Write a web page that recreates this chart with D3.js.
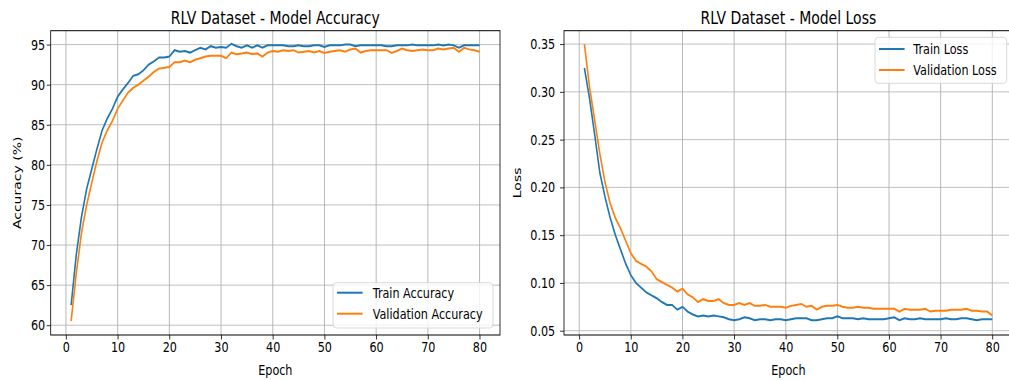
<!DOCTYPE html>
<html><head><meta charset="utf-8">
<script src="https://cdn.jsdelivr.net/npm/d3@7"></script>
<style>body{margin:0;background:#fff;overflow:hidden} svg{display:block}</style>
</head><body>
<svg id="c" width="1009" height="380" viewBox="0 0 1261.25 380" preserveAspectRatio="none"></svg>
<script>
const epochs = d3.range(1, 81);
const trainAcc = [62.5,68.8,73.5,77.0,79.5,82.0,84.3,85.8,87.0,88.5,89.4,90.2,91.1,91.3,91.8,92.5,92.9,93.4,93.4,93.5,
94.3,94.1,94.2,94.0,94.3,94.6,94.4,94.8,94.6,94.7,94.6,95.1,94.8,94.6,94.9,94.6,94.9,94.6,94.9,94.9,
94.9,94.9,94.8,94.8,94.9,94.8,94.8,94.9,94.9,94.7,94.9,94.9,94.9,95.0,95.0,94.8,94.9,94.9,94.9,94.9,
94.9,94.8,94.8,94.9,94.9,94.9,95.0,94.9,94.9,94.9,94.9,95.0,94.9,95.0,94.9,94.6,94.9,94.9,94.9,94.9];
const valAcc = [60.5,66.5,71.5,75.0,77.8,80.5,82.8,84.3,85.5,87.0,88.0,89.0,89.6,90.0,90.5,91.0,91.6,92.0,92.1,92.2,
92.8,92.8,93.0,92.8,93.1,93.3,93.5,93.6,93.6,93.6,93.3,94.0,93.8,93.9,94.0,93.8,93.9,93.5,94.0,94.2,
94.1,94.3,94.2,94.3,94.0,94.1,94.2,94.0,94.2,93.95,94.1,94.2,94.3,94.1,94.4,94.5,94.0,94.2,94.3,94.3,
94.3,94.3,93.95,94.2,94.5,94.3,94.2,94.3,94.4,94.3,94.3,94.5,94.4,94.5,94.6,94.1,94.6,94.4,94.3,94.1];
const trainLoss = [0.325,0.293,0.255,0.215,0.190,0.168,0.150,0.135,0.120,0.108,0.100,0.095,0.090,0.087,0.084,0.080,0.077,0.077,0.072,0.075,
0.070,0.067,0.065,0.066,0.065,0.066,0.065,0.064,0.062,0.061,0.062,0.064,0.063,0.061,0.062,0.062,0.061,0.062,0.062,0.061,
0.062,0.063,0.063,0.063,0.061,0.061,0.062,0.063,0.063,0.065,0.063,0.063,0.063,0.062,0.063,0.062,0.062,0.062,0.062,0.063,
0.064,0.061,0.063,0.062,0.062,0.063,0.062,0.062,0.062,0.062,0.063,0.062,0.062,0.063,0.063,0.062,0.061,0.062,0.062,0.062];
const valLoss = [0.350,0.305,0.270,0.235,0.205,0.183,0.168,0.157,0.144,0.131,0.123,0.120,0.117,0.112,0.104,0.101,0.098,0.095,0.091,0.094,
0.088,0.085,0.080,0.083,0.081,0.081,0.083,0.079,0.077,0.077,0.079,0.077,0.079,0.076,0.076,0.077,0.075,0.075,0.075,0.074,
0.076,0.077,0.078,0.075,0.076,0.072,0.075,0.076,0.076,0.077,0.075,0.074,0.074,0.075,0.074,0.074,0.073,0.073,0.073,0.073,
0.073,0.070,0.073,0.072,0.072,0.072,0.073,0.070,0.071,0.071,0.071,0.072,0.072,0.072,0.073,0.071,0.071,0.070,0.070,0.066];
const xTicks = [0,10,20,30,40,50,60,70,80];
const accTicks = [60,65,70,75,80,85,90,95];
const lossTicks = [0.05,0.10,0.15,0.20,0.25,0.30,0.35];

const BLUE = "#1f77b4", ORANGE = "#ff7f0e";
const FONT = "DejaVu Sans, Verdana, sans-serif";
const S = 1.25; // horizontal compression of the reference
const svg = d3.select("#c");
svg.append("rect").attr("width", 1261.25).attr("height", 380).attr("fill", "#fff");

function panel(opt) {
  const x = d3.scaleLinear().domain([-2.95, 83.95]).range([opt.x0, opt.x1]);
  const y = d3.scaleLinear().domain(opt.yDomain).range([335, 30.7]);
  const g = svg.append("g");
  // grid
  g.append("g").selectAll("line").data(xTicks).join("line")
    .attr("x1", d => x(d)).attr("x2", d => x(d)).attr("y1", 30.7).attr("y2", 335)
    .attr("stroke", "#b0b0b0").attr("stroke-width", 1.0);
  g.append("g").selectAll("line").data(opt.yTicks).join("line")
    .attr("x1", opt.x0).attr("x2", opt.x1).attr("y1", d => y(d)).attr("y2", d => y(d))
    .attr("stroke", "#b0b0b0").attr("stroke-width", 0.9);
  // lines
  const line = d3.line().x((d, i) => x(epochs[i])).y(d => y(d));
  g.append("path").datum(opt.a).attr("d", line).attr("fill", "none").attr("stroke", BLUE).attr("stroke-width", 2);
  g.append("path").datum(opt.b).attr("d", line).attr("fill", "none").attr("stroke", ORANGE).attr("stroke-width", 2);
  // axes
  const xa = g.append("g").attr("transform", "translate(0,335)")
    .call(d3.axisBottom(x).tickValues(xTicks).tickSize(4.5).tickPadding(3).tickSizeOuter(0));
  const ya = g.append("g").attr("transform", `translate(${opt.x0},0)`)
    .call(d3.axisLeft(y).tickValues(opt.yTicks).tickFormat(opt.fmt).tickSize(5).tickPadding(opt.pad).tickSizeOuter(0));
  [xa, ya].forEach(a => {
    a.select(".domain").remove();
    a.selectAll("text").attr("font-family", FONT).attr("font-size", 14).attr("fill", "#000");
    a.selectAll("line").attr("stroke", "#000").attr("stroke-width", 0.9);
  });
  // spines
  g.append("rect").attr("x", opt.x0).attr("y", 30.7).attr("width", opt.x1 - opt.x0).attr("height", 335 - 30.7)
    .attr("fill", "none").attr("stroke", "#000").attr("stroke-width", 1);
  // title and labels
  g.append("text").attr("x", (opt.x0 + opt.x1) / 2).attr("y", 24).attr("text-anchor", "middle")
    .attr("font-family", FONT).attr("font-size", 17.5).text(opt.title);
  g.append("text").attr("x", (opt.x0 + opt.x1) / 2).attr("y", 375).attr("text-anchor", "middle")
    .attr("font-family", FONT).attr("font-size", 14).text("Epoch");
  g.append("text").attr("transform", `translate(${opt.ylx},${(30.7 + 335) / 2}) rotate(-90)`)
    .attr("text-anchor", "middle").attr("dy", "0.35em")
    .attr("font-family", FONT).attr("font-size", 14).text(opt.ylabel);
  // legend
  const L = opt.leg;
  const lg = g.append("g");
  lg.append("rect").attr("x", L.x).attr("y", L.y).attr("width", L.w).attr("height", L.h)
    .attr("rx", 4).attr("fill", "#fff").attr("fill-opacity", 0.8).attr("stroke", "#d5d5d5");
  opt.names.forEach((n, i) => {
    const yy = L.r0 + i * 21;
    lg.append("line").attr("x1", L.lx).attr("x2", L.lx + 32).attr("y1", yy).attr("y2", yy)
      .attr("stroke", i === 0 ? BLUE : ORANGE).attr("stroke-width", 2);
    lg.append("text").attr("x", L.tx).attr("y", yy).attr("dy", "0.36em")
      .attr("font-family", FONT).attr("font-size", 14).text(n);
  });
}

panel({
  x0: 50.7 * S, x1: 500 * S, yDomain: [58.78, 96.73], yTicks: accTicks, fmt: d3.format("d"), pad: 2,
  a: trainAcc, b: valAcc, title: "RLV Dataset - Model Accuracy", ylabel: "Accuracy (%)", ylx: 16.7 * S,
  names: ["Train Accuracy", "Validation Accuracy"],
  leg: {x: 333 * S, y: 282.7, w: 160 * S, h: 45.3, r0: 292.7, lx: 337 * S, tx: 372.7 * S}
});
panel({
  x0: 564 * S, x1: 1012.7 * S, yDomain: [0.0455, 0.3640], yTicks: lossTicks, fmt: d3.format(".2f"), pad: 6,
  a: trainLoss, b: valLoss, title: "RLV Dataset - Model Loss", ylabel: "Loss", ylx: 517 * S,
  names: ["Train Loss", "Validation Loss"],
  leg: {x: 875 * S, y: 37.3, w: 131.7 * S, h: 46, r0: 49, lx: 879 * S, tx: 913.3 * S}
});
</script>
</body></html>
